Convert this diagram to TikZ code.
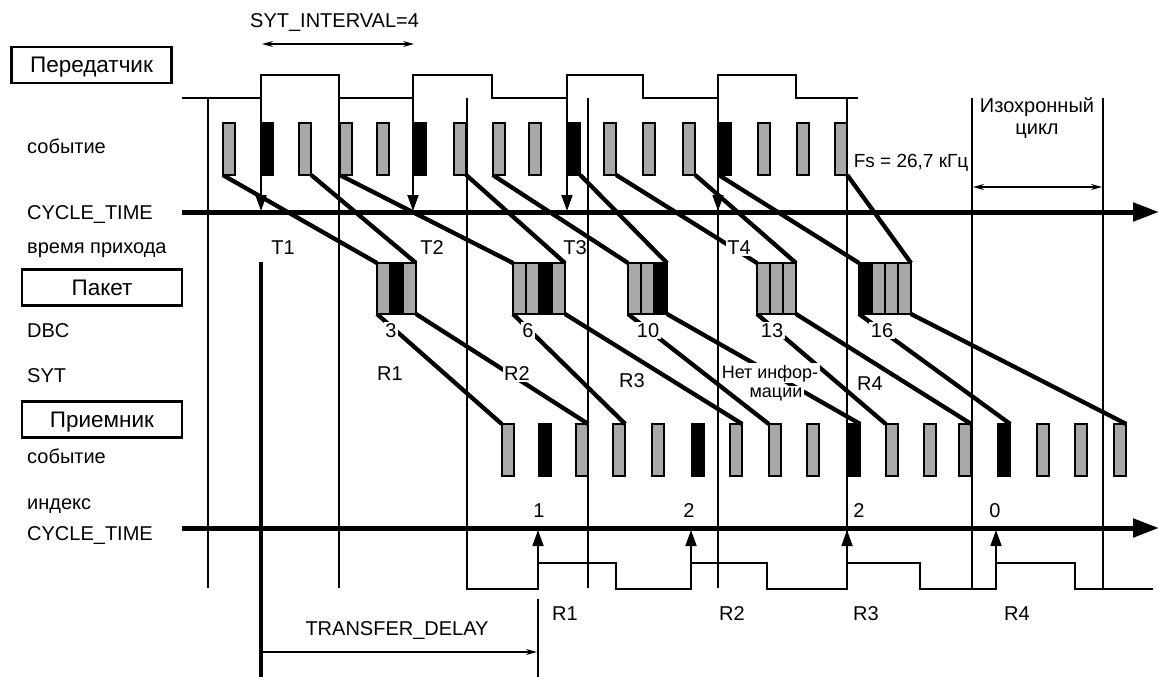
\documentclass[tikz,border=0pt]{standalone}
\usepackage{fontspec}
\setmainfont{Liberation Sans}
\usetikzlibrary{arrows.meta}
\definecolor{evgray}{RGB}{168,168,168}
\begin{document}
\begin{tikzpicture}[x=1pt,y=-1pt,
  thinl/.style={line width=1.8pt},
  conn/.style={line width=4.3pt},
  axisl/.style={line width=5pt,-{Triangle[length=26pt,width=18pt]}},
  evbox/.style={draw,line width=1.8pt,minimum width=12.5pt,minimum height=52pt,inner sep=0pt,outer sep=0pt},
  pcell/.style={draw,line width=1.4pt,minimum width=13pt,minimum height=51pt,inner sep=0pt,outer sep=0pt},
  pframe/.style={draw,line width=2.6pt,minimum height=51pt,inner sep=0pt,outer sep=0pt},
  lbl/.style={font=\fontsize{20}{22}\selectfont,inner sep=0pt,anchor=base},
  llbl/.style={lbl,anchor=base west},
  cut/.style={lbl,fill=white,inner sep=1.5pt},
  titlebox/.style={draw,line width=2.4pt,minimum height=36pt,inner sep=0pt,font=\fontsize{22.5}{24}\selectfont,text height=16pt,text depth=0pt},
  evarr/.style={thinl,-{Triangle[length=16pt,width=11pt]}},
  dimarr/.style={line width=1.3pt,{Stealth[length=11pt,width=6pt]}-{Stealth[length=11pt,width=6pt]}},
]
\useasboundingbox (0,0) rectangle (1159,677);

% ---- transmitter waveform
\draw[thinl] (182,98) -- (261,98) -- (261,75) -- (339,75) -- (339,98) -- (413,98) -- (413,75) -- (492,75) -- (492,98)
  -- (567,98) -- (567,75) -- (643,75) -- (643,98) -- (718,98) -- (718,75) -- (796,75) -- (796,98) -- (858,98);

% ---- cycle boundaries
\foreach \x in {208,339,588,718} \draw[thinl] (\x,98) -- (\x,588);
\foreach \x in {972,1103} \draw[thinl] (\x,98) -- (\x,589);
\draw[thinl] (847,98) -- (847,563);

% ---- receiver waveform
\draw[thinl] (467,98) -- (467,589) -- (538,589) -- (538,563) -- (616,563) -- (616,589) -- (691,589) -- (691,563)
  -- (767,563) -- (767,589) -- (847,589) -- (847,563) -- (920,563) -- (920,589) -- (996,589) -- (996,563)
  -- (1075,563) -- (1075,589) -- (1153,589);

% ---- axes
\coordinate (ax1a) at (182,212); \coordinate (ax1b) at (1159,212);
\coordinate (ax2a) at (182,528); \coordinate (ax2b) at (1159,528);
\draw[axisl] (ax1a) -- (ax1b);
\draw[axisl] (ax2a) -- (ax2b);

% ---- timestamp arrows
\foreach \x in {261,413,567,718} \draw[evarr] (\x,98) -- (\x,211);
\foreach \x in {538,691,847,996} \draw[evarr] (\x,563) -- (\x,530);

% ---- transfer delay
\coordinate (td0) at (261,262); \coordinate (td1) at (261,677);
\draw[line width=4.5pt] (td0) -- (td1);
\coordinate (td2) at (538,599); \coordinate (td3) at (538,677);
\draw[thinl] (td2) -- (td3);
\coordinate (td4) at (263,652); \coordinate (td5) at (537,652);
\draw[line width=1.3pt,-{Stealth[length=11pt,width=6pt]}] (td4) -- (td5);

% ---- interval arrows
\coordinate (sy0) at (262,44); \coordinate (sy1) at (414,44);
\draw[dimarr] (sy0) -- (sy1);
\coordinate (ic0) at (973,187); \coordinate (ic1) at (1102,187);
\draw[dimarr] (ic0) -- (ic1);

% ---- event nodes (coordinates only for connectors first)
\foreach \i/\l/\c in {0/222/evgray,1/260/black,2/298/evgray,3/339/evgray,4/376/evgray,5/413/black,6/453/evgray,7/492/evgray,
  8/528/evgray,9/567/black,10/603/evgray,11/642/evgray,12/682/evgray,13/718/black,14/757/evgray,15/796/evgray,16/834/evgray}
  \node[evbox,fill=\c] (t\i) at (\l+7,149) {};
\foreach \i/\l/\c in {0/501/evgray,1/538/black,2/575/evgray,3/612/evgray,4/651/evgray,5/691/black,6/729/evgray,7/768/evgray,
  8/806/evgray,9/847/black,10/885/evgray,11/923/evgray,12/958/evgray,13/997/black,14/1036/evgray,15/1074/evgray,16/1113/evgray}
  \node[evbox,fill=\c] (r\i) at (\l+7,450) {};

% ---- packets
\node[pframe,minimum width=39pt] (p1) at (396.5,288.5) {};
\node[pframe,minimum width=52pt] (p2) at (539,288.5) {};
\node[pframe,minimum width=39pt] (p3) at (647.5,288.5) {};
\node[pframe,minimum width=39pt] (p4) at (776.5,288.5) {};
\node[pframe,minimum width=52pt] (p5) at (885,288.5) {};

% ---- connectors transmitter -> packets
\draw[conn] (t0.south west) -- (p1.north west);
\draw[conn] (t2.south east) -- (p1.north east);
\draw[conn] (t3.south west) -- (p2.north west);
\draw[conn] (t6.south east) -- (p2.north east);
\draw[conn] (t7.south west) -- (p3.north west);
\draw[conn] (t9.south east) -- (p3.north east);
\draw[conn] (t10.south east) -- (p4.north west);
\draw[conn] (t12.south east) -- (p4.north east);
\draw[conn] (t13.south west) -- (p5.north west);
\draw[conn] (t16.south east) -- (p5.north east);

% ---- connectors packets -> receiver
\draw[conn] (p1.south west) -- (r0.north west);
\draw[conn] (p1.south east) -- (r2.north east);
\draw[conn] (p2.south west) -- (r3.north east);
\draw[conn] (p2.south east) -- (r6.north east);
\draw[conn] (p3.south west) -- (r7.north west);
\draw[conn] (p3.south east) -- (r9.north east);
\draw[conn] (p4.south west) -- (r10.north west);
\draw[conn] (p4.south east) -- (r12.north east);
\draw[conn] (p5.south west) -- (r13.north east);
\draw[conn] (p5.south east) -- (r16.north east);

% redraw events on top of connector ends
\foreach \i/\l/\c in {0/222/evgray,2/298/evgray,3/339/evgray,6/453/evgray,7/492/evgray,9/567/black,10/603/evgray,12/682/evgray,13/718/black,16/834/evgray}
  \node[evbox,fill=\c] (tt\i) at (\l+7,149) {};

% packet cells
\foreach \n/\l/\cols in {1/377/{evgray,black,evgray},2/513/{evgray,evgray,black,evgray},3/628/{evgray,evgray,black},
  4/757/{evgray,evgray,evgray},5/859/{black,evgray,evgray,evgray}}{
  \foreach \c [count=\k from 0] in \cols
    \node[pcell,fill=\c] (p\n c\k) at (\l+6.5+13*\k,288.5) {};
}
\foreach \n in {1,...,5} \draw[line width=2.6pt] (p\n.north west) rectangle (p\n.south east);

% ---- title boxes
\node[titlebox,minimum width=160pt] (tx) at (91.5,65) {Передатчик};
\node[titlebox,minimum width=160pt] (pk) at (102,287.5) {Пакет};
\node[titlebox,minimum width=160pt] (rx) at (102,419.5) {Приемник};

% ---- left labels
\node[llbl] (l1) at (27,153) {событие};
\node[llbl] (l2) at (27,219) {CYCLE\_TIME};
\node[llbl] (l3) at (27,253) {время прихода};
\node[llbl] (l4) at (27,337) {DBC};
\node[llbl] (l5) at (27,382) {SYT};
\node[llbl] (l6) at (27,463) {событие};
\node[llbl] (l7) at (27,509) {индекс};
\node[llbl] (l8) at (27,540) {CYCLE\_TIME};

% ---- other labels
\node[llbl] (syt) at (250,28) {SYT\_INTERVAL=4};
\node[lbl,font=\fontsize{19}{21}\selectfont] (fs) at (911,167) {Fs = 26,7 кГц};
\node[lbl] (iso1) at (1037,112) {Изохронный};
\node[lbl] (iso2) at (1037,134) {цикл};
\node[lbl] (T1) at (283,254) {T1};
\node[lbl] (T2) at (432,254) {T2};
\node[lbl] (T3) at (575,254) {T3};
\node[cut] (T4) at (739,254) {T4};
\node[cut] (d3) at (391,337) {3};
\node[cut] (d6) at (528,337) {6};
\node[cut] (d10) at (648,337) {10};
\node[cut] (d13) at (772,337) {13};
\node[cut] (d16) at (882,337) {16};
\node[lbl] (s1) at (390,380) {R1};
\node[cut] (s2) at (517,380) {R2};
\node[lbl] (s3) at (632,387) {R3};
\node[lbl] (s4) at (870,390) {R4};
\node[cut,font=\fontsize{18}{20}\selectfont] (net1) at (770,378) {Нет инфор-};
\node[cut,font=\fontsize{18}{20}\selectfont] (net2) at (776,397) {мации};
\node[lbl] (i1) at (539,517) {1};
\node[lbl] (i2) at (689,517) {2};
\node[lbl] (i3) at (859,517) {2};
\node[lbl] (i4) at (995,517) {0};
\node[lbl] (b1) at (565,620) {R1};
\node[lbl] (b2) at (732,620) {R2};
\node[lbl] (b3) at (866,620) {R3};
\node[lbl] (b4) at (1017,620) {R4};
\node[lbl] (tdl) at (397,635) {TRANSFER\_DELAY};
\end{tikzpicture}
\end{document}
